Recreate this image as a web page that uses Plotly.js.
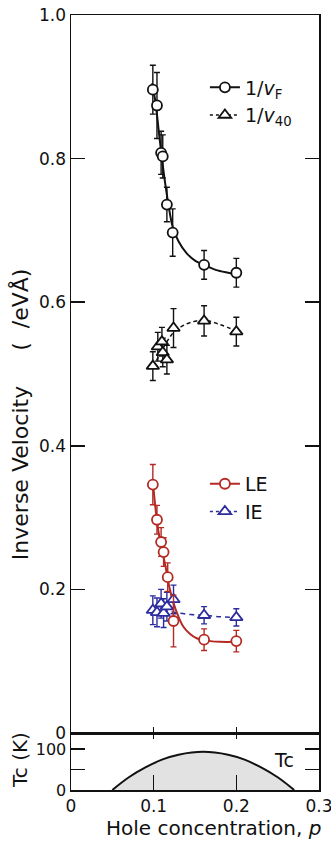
<!DOCTYPE html>
<html>
<head>
<meta charset="utf-8">
<script src="https://cdn.plot.ly/plotly-3.0.1.min.js"></script>
<style>html,body{margin:0;padding:0;background:#fff;}#chart{width:331px;height:843px;}</style>
</head>
<body>
<div id="chart"></div>
<script>
// ---- data ----
// 1/vF data points
var pVF   = [0.099, 0.104, 0.109, 0.111, 0.116, 0.123, 0.161, 0.200];
var invVF = [0.896, 0.874, 0.808, 0.803, 0.736, 0.697, 0.652, 0.641];
var errVF = [0.034, 0.046, 0.030, 0.030, 0.024, 0.033, 0.020, 0.020];
// 1/vF fitted curve (solid)
var pVFfit   = [0.098, 0.102, 0.106, 0.110, 0.114, 0.118, 0.123, 0.130, 0.140, 0.150, 0.161, 0.175, 0.190, 0.200];
var invVFfit = [0.905, 0.880, 0.840, 0.800, 0.765, 0.735, 0.705, 0.685, 0.668, 0.658, 0.652, 0.645, 0.641, 0.639];
// 1/v40 data points
var pV40   = [0.099, 0.105, 0.110, 0.111, 0.116, 0.124, 0.161, 0.200];
var invV40 = [0.511, 0.538, 0.545, 0.530, 0.520, 0.564, 0.574, 0.559];
var errV40 = [0.020, 0.020, 0.020, 0.020, 0.020, 0.027, 0.021, 0.020];
// 1/v40 fitted curve (dashed)
var pV40fit   = [0.099, 0.105, 0.110, 0.115, 0.120, 0.125, 0.135, 0.145, 0.161, 0.180, 0.200];
var invV40fit = [0.510, 0.522, 0.533, 0.543, 0.552, 0.559, 0.567, 0.572, 0.575, 0.569, 0.560];
// LE data points
var pLE   = [0.099, 0.104, 0.109, 0.112, 0.117, 0.124, 0.161, 0.200];
var valLE = [0.346, 0.297, 0.266, 0.252, 0.217, 0.156, 0.130, 0.128];
var errLE = [0.028, 0.020, 0.020, 0.020, 0.020, 0.036, 0.015, 0.015];
// LE fitted curve (solid)
var pLEfit   = [0.099, 0.103, 0.107, 0.111, 0.115, 0.119, 0.124, 0.130, 0.136, 0.144, 0.152, 0.161, 0.180, 0.200];
var valLEfit = [0.350, 0.305, 0.272, 0.250, 0.228, 0.203, 0.181, 0.162, 0.148, 0.138, 0.132, 0.129, 0.127, 0.127];
// IE data points
var pIE   = [0.099, 0.104, 0.109, 0.112, 0.116, 0.124, 0.161, 0.200];
var valIE = [0.171, 0.168, 0.180, 0.167, 0.176, 0.186, 0.164, 0.161];
var errIE = [0.020, 0.020, 0.020, 0.020, 0.020, 0.020, 0.012, 0.012];
// IE dashed curve
var pIEfit   = [0.100, 0.115, 0.130, 0.145, 0.161, 0.180, 0.200];
var valIEfit = [0.172, 0.170, 0.167, 0.165, 0.164, 0.162, 0.161];
// Tc dome
var pTc = [0.05, 0.07, 0.09, 0.11, 0.13, 0.16, 0.19, 0.21, 0.23, 0.25, 0.27];
var Tc  = [0, 31, 55, 74, 86, 93, 86, 74, 55, 31, 0];
// tick labels
var yTickVals  = [0, 0.2, 0.4, 0.6, 0.8, 1.0];
var yTickText  = ["0", "0.2", "0.4", "0.6", "0.8", "1.0"];
var xTickVals  = [0, 0.1, 0.2, 0.3];
var xTickText  = ["0", "0.1", "0.2", "0.3"];
var tcTickVals = [0, 50, 100];
var tcTickText = ["0", "", "100"];

var RED = '#b42a25', BLUE = '#2c2c9e', BLACK = '#111';
var FONT = 'DejaVu Sans, Liberation Sans, Arial, sans-serif';

function mk(symbol, color) {
  return {symbol: symbol, size: symbol.indexOf('triangle') === 0 ? 11 : 10, color: 'white', line: {color: color, width: 1.8}};
}
function pts(x, y, err, color, symbol) {
  return {x: x, y: y, type: 'scatter', mode: 'markers', showlegend: false, xaxis: 'x', yaxis: 'y',
    marker: mk(symbol, color),
    error_y: {type: 'data', array: err, visible: true, color: color, thickness: 1.4, width: 3}};
}
function fit(x, y, color, dash, w) {
  return {x: x, y: y, type: 'scatter', mode: 'lines', showlegend: false, xaxis: 'x', yaxis: 'y',
    line: {color: color, width: w, dash: dash, shape: 'spline', smoothing: 1}};
}
function leg(name, color, symbol, dash, w, legendId) {
  return {x: [null], y: [null], type: 'scatter', mode: 'lines+markers', name: name, legend: legendId,
    xaxis: 'x', yaxis: 'y', line: {color: color, width: w, dash: dash}, marker: mk(symbol, color)};
}

var traces = [
  fit(pV40fit, invV40fit, BLACK, '4px,3px', 1.5),
  fit(pVFfit, invVFfit, BLACK, 'solid', 2),
  fit(pIEfit, valIEfit, BLUE, '5px,4px', 1.5),
  fit(pLEfit, valLEfit, RED, 'solid', 2),
  pts(pV40, invV40, errV40, BLACK, 'triangle-up'),
  pts(pVF, invVF, errVF, BLACK, 'circle'),
  pts(pIE, valIE, errIE, BLUE, 'triangle-up'),
  pts(pLE, valLE, errLE, RED, 'circle'),
  leg('1/<i>v</i><sub>F</sub>', BLACK, 'circle', 'solid', 2, 'legend'),
  leg('1/<i>v</i><sub>40</sub>', BLACK, 'triangle-up', '3px,3px', 1.5, 'legend'),
  leg('LE', RED, 'circle', 'solid', 2, 'legend2'),
  leg('IE', BLUE, 'triangle-up', '3px,3px', 1.5, 'legend2'),
  {x: pTc, y: Tc, type: 'scatter', mode: 'lines', fill: 'tozeroy', fillcolor: '#e2e2e2',
   line: {color: BLACK, width: 2, shape: 'spline', smoothing: 1}, showlegend: false, xaxis: 'x2', yaxis: 'y2'},
  {x: [], y: [], type: 'scatter', mode: 'markers', showlegend: false, xaxis: 'x3', yaxis: 'y2', hoverinfo: 'skip'},
  {x: [], y: [], type: 'scatter', mode: 'markers', showlegend: false, xaxis: 'x2', yaxis: 'y3', hoverinfo: 'skip'}
];

var axisCommon = {showline: true, linecolor: BLACK, linewidth: 1.5, showgrid: false, zeroline: false,
  ticks: 'inside', tickcolor: BLACK, tickwidth: 1.5, ticklabeloverflow: 'allow',
  tickfont: {family: FONT, size: 17, color: BLACK}};
function ax(o) { var r = {}; for (var k in axisCommon) r[k] = axisCommon[k]; for (var k2 in o) r[k2] = o[k2]; return r; }

var splitY = 57 / 775;

var layout = {
  width: 331, height: 843,
  margin: {l: 71, r: 12, t: 15, b: 53},
  paper_bgcolor: 'white', plot_bgcolor: 'white',
  font: {family: FONT, color: BLACK},
  xaxis: ax({domain: [0, 1], anchor: 'y', range: [0, 0.3], tickvals: [0.1, 0.2], ticklen: 6, showticklabels: false, mirror: true}),
  yaxis: ax({domain: [splitY, 1], anchor: 'x', range: [0, 1], tickvals: yTickVals, ticktext: yTickText, ticklen: 14, mirror: 'ticks'}),
  xaxis2: ax({domain: [0, 1], anchor: 'y2', range: [0, 0.3], tickvals: xTickVals, ticktext: xTickText, ticklen: 15, mirror: true}),
  yaxis2: ax({domain: [0, splitY], anchor: 'x2', range: [0, 139], tickvals: tcTickVals, ticktext: tcTickText, ticklen: 14, mirror: true,
    tickfont: {family: FONT, size: 16, color: BLACK}}),
  xaxis3: ax({overlaying: 'x2', anchor: 'y2', side: 'top', range: [0, 0.3], tickvals: [0.1, 0.2], ticklen: 6, showticklabels: false, showline: false}),
  yaxis3: ax({overlaying: 'y2', anchor: 'x2', side: 'right', range: [0, 139], tickvals: [50, 100], ticklen: 14, showticklabels: false, showline: false}),
  legend: {x: 0.54, y: 0.931, xanchor: 'left', yanchor: 'top', bgcolor: 'rgba(0,0,0,0)', font: {family: FONT, size: 19, color: BLACK}, itemwidth: 30, tracegroupgap: 0},
  legend2: {x: 0.54, y: 0.4195, xanchor: 'left', yanchor: 'top', bgcolor: 'rgba(0,0,0,0)', font: {family: FONT, size: 19, color: BLACK}, itemwidth: 30, tracegroupgap: 0},
  annotations: [
    {text: 'Inverse Velocity\u00a0\u00a0\u00a0\u00a0\u00a0(\u00a0\u00a0/eVÅ)', xref: 'paper', yref: 'paper', x: -0.2056, y: 0.485, textangle: -90,
     showarrow: false, xanchor: 'center', yanchor: 'middle', font: {family: FONT, size: 22, color: BLACK}},
    {text: 'Tc (K)', xref: 'paper', yref: 'paper', x: -0.2056, y: 0.0387, textangle: -90,
     showarrow: false, xanchor: 'center', yanchor: 'middle', font: {family: FONT, size: 20, color: BLACK}},
    {text: 'Hole concentration, <i>p</i>', xref: 'paper', yref: 'paper', x: 0.5726, y: -0.049,
     showarrow: false, xanchor: 'center', yanchor: 'middle', font: {family: FONT, size: 20, color: BLACK}},
    {text: 'Tc', xref: 'x2', yref: 'y2', x: 0.258, y: 72, showarrow: false, xanchor: 'center', yanchor: 'middle',
     font: {family: FONT, size: 19, color: BLACK}}
  ]
};

Plotly.newPlot('chart', traces, layout, {displayModeBar: false, staticPlot: true});
</script>
</body>
</html>
